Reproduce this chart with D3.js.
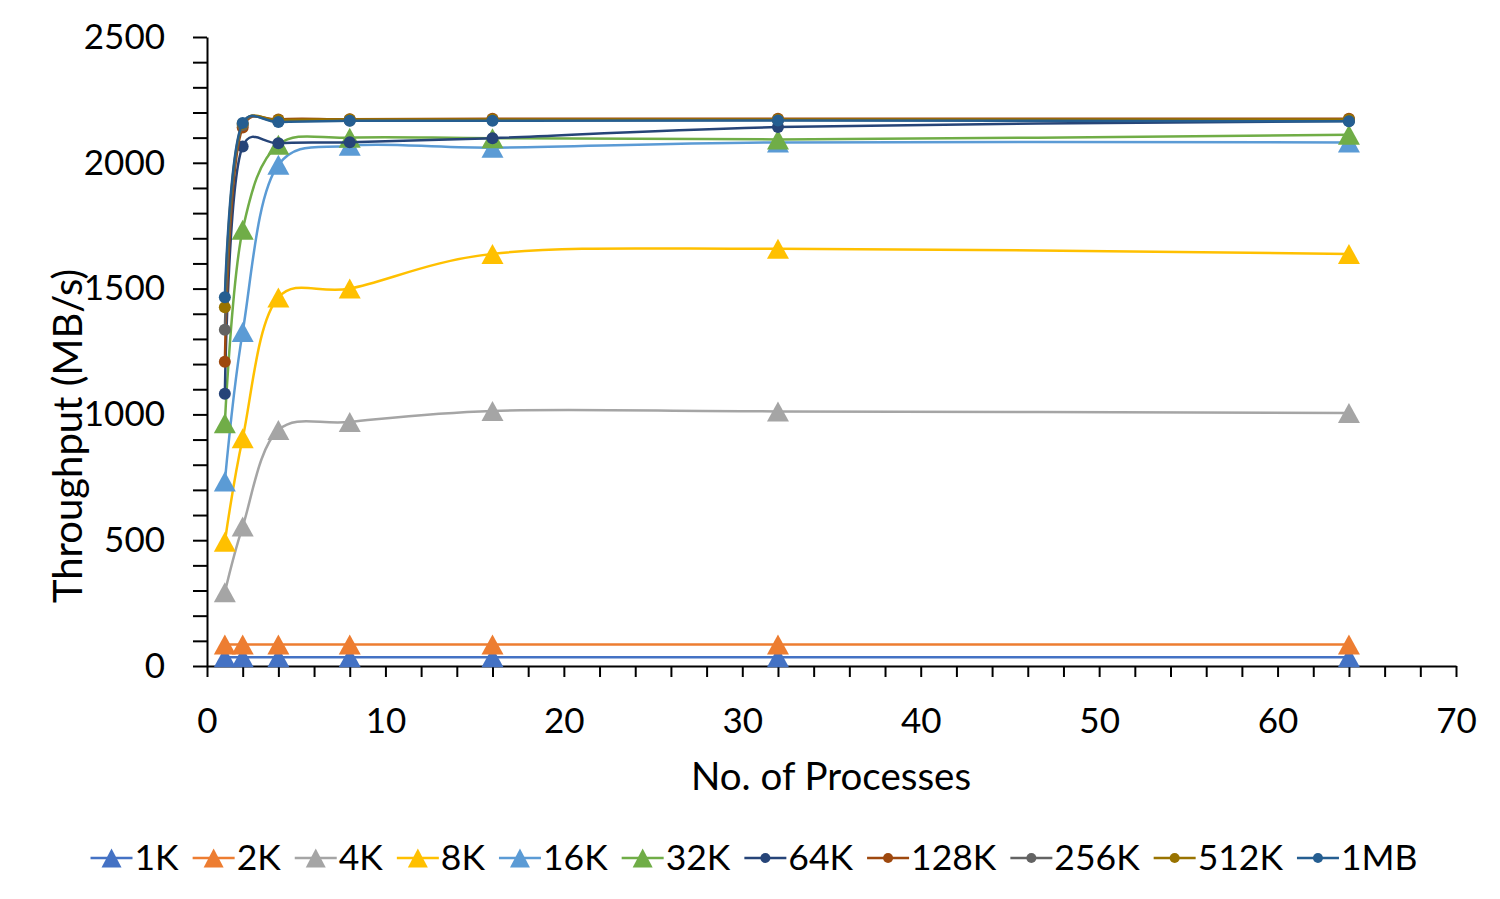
<!DOCTYPE html>
<html>
<head>
<meta charset="utf-8">
<script src="https://cdn.jsdelivr.net/npm/d3@7"></script>
<style>
    body { margin: 0; background: #fff; }
    text { font-family: Lato, "Liberation Sans", sans-serif; fill: #000; }
</style>
</head>
<body>
<svg id="chart" width="1500" height="899"></svg>
<script>
//Process counts on the x axis
var processes = [1, 2, 4, 8, 16, 32, 64];

//Throughput (MB/s) for each block size
var s1K   = [35, 35, 35, 35, 35, 35, 35];
var s2K   = [85, 85, 85, 85, 85, 85, 85];
var s4K   = [293, 554, 938, 970, 1014, 1012, 1006];
var s8K   = [494, 905, 1465, 1500, 1638, 1658, 1638];
var s16K  = [733, 1328, 1992, 2068, 2060, 2081, 2081];
var s32K  = [965, 1734, 2072, 2100, 2098, 2093, 2111];
var s64K  = [1082, 2065, 2078, 2082, 2098, 2142, 2166];
var s128K = [1209, 2140, 2172, 2173, 2175, 2175, 2175];
var s256K = [1336, 2150, 2165, 2168, 2170, 2170, 2170];
var s512K = [1426, 2155, 2170, 2172, 2172, 2172, 2172];
var s1MB  = [1466, 2158, 2162, 2167, 2167, 2168, 2165];

//Series names, colours and marker shapes
var seriesNames = ["1K", "2K", "4K", "8K", "16K", "32K", "64K", "128K", "256K", "512K", "1MB"];
var seriesValues = [s1K, s2K, s4K, s8K, s16K, s32K, s64K, s128K, s256K, s512K, s1MB];
var seriesColors = ["#4472C4", "#ED7D31", "#A5A5A5", "#FFC000", "#5B9BD5", "#70AD47",
                    "#264478", "#9E480E", "#636363", "#997300", "#255E91"];
var seriesMarkers = ["tri", "tri", "tri", "tri", "tri", "tri", "dot", "dot", "dot", "dot", "dot"];

//Axis ticks
var xTicks = [0, 10, 20, 30, 40, 50, 60, 70];
var yTicks = [0, 500, 1000, 1500, 2000, 2500];

function drawMarker(g, type, color, x, y, big){
    if (type == "tri"){
        var w = big ? 22 : 20, h = big ? 20 : 19;
        g.append("path")
            .attr("d", "M" + x + "," + (y - h / 2) + "L" + (x + w / 2) + "," + (y + h / 2) + "L" + (x - w / 2) + "," + (y + h / 2) + "Z")
            .attr("fill", color);
    } else {
        g.append("circle")
            .attr("cx", x).attr("cy", y)
            .attr("r", big ? 6 : 5)
            .attr("fill", color);
    }
};

function createChart(){
    var svg = d3.select("#chart");

    //plot area
    var left = 207, right = 1456, top = 37, bottom = 666;

    var x = d3.scaleLinear().domain([0, 70]).range([left, right]);
    var y = d3.scaleLinear().domain([0, 2500]).range([bottom, top]);

    //x axis: ticks every 2, labels every 10
    var xAxis = d3.axisBottom(x)
        .tickValues(d3.range(0, 71, 2))
        .tickSize(11)
        .tickSizeOuter(0)
        .tickFormat(function(d){ return xTicks.indexOf(d) >= 0 ? d : ""; });
    var gx = svg.append("g").attr("transform", "translate(0," + bottom + ")").call(xAxis);
    gx.selectAll("line").attr("stroke", "#000").attr("stroke-width", 2);
    gx.select(".domain").attr("stroke", "#000").attr("stroke-width", 2);
    gx.selectAll("text").attr("font-size", 35).attr("y", 67).attr("dy", "0");

    //y axis: ticks every 100, labels every 500
    var yAxis = d3.axisLeft(y)
        .tickValues(d3.range(0, 2501, 100))
        .tickSize(14)
        .tickSizeOuter(0)
        .tickFormat(function(d){ return yTicks.indexOf(d) >= 0 ? d : ""; });
    var gy = svg.append("g").attr("transform", "translate(" + left + ",0)").call(yAxis);
    gy.selectAll("line").attr("stroke", "#000").attr("stroke-width", 2);
    gy.select(".domain").attr("stroke", "#000").attr("stroke-width", 2);
    gy.selectAll("text").attr("font-size", 35).attr("x", -42);

    //axis titles
    svg.append("text")
        .attr("x", 831).attr("y", 790)
        .attr("text-anchor", "middle").attr("font-size", 38.5)
        .text("No. of Processes");
    svg.append("text")
        .attr("transform", "translate(82,436) rotate(-90)")
        .attr("text-anchor", "middle").attr("font-size", 40)
        .text("Throughput (MB/s)");

    //smoothed lines like the spreadsheet
    var line = d3.line()
        .x(function(d, i){ return x(processes[i]); })
        .y(function(d){ return y(d); })
        .curve(d3.curveCatmullRom.alpha(0.25));

    seriesValues.forEach(function(vals, k){
        var g = svg.append("g");
        g.append("path")
            .attr("d", line(vals))
            .attr("fill", "none")
            .attr("stroke", seriesColors[k])
            .attr("stroke-width", 2.5);
        vals.forEach(function(v, i){
            drawMarker(g, seriesMarkers[k], seriesColors[k], x(processes[i]), y(v), true);
        });
    });

    //legend along the bottom, centred
    var legend = svg.append("g");
    var pos = 0;
    seriesNames.forEach(function(name, k){
        var it = legend.append("g");
        it.append("line")
            .attr("x1", 0).attr("x2", 42).attr("y1", 0).attr("y2", 0)
            .attr("stroke", seriesColors[k]).attr("stroke-width", 2.5);
        drawMarker(it, seriesMarkers[k], seriesColors[k], 21, 0, false);
        var t = it.append("text")
            .attr("x", 44).attr("y", 0).attr("dy", "0.35em")
            .attr("font-size", 35.5)
            .text(name);
        var w = 44 + t.node().getComputedTextLength();
        it.attr("transform", "translate(" + pos + ",0)");
        pos += w + 14;
    });
    var total = pos - 14;
    legend.attr("transform", "translate(" + (754 - total / 2) + ",858)");
};

createChart();
</script>
</body>
</html>
